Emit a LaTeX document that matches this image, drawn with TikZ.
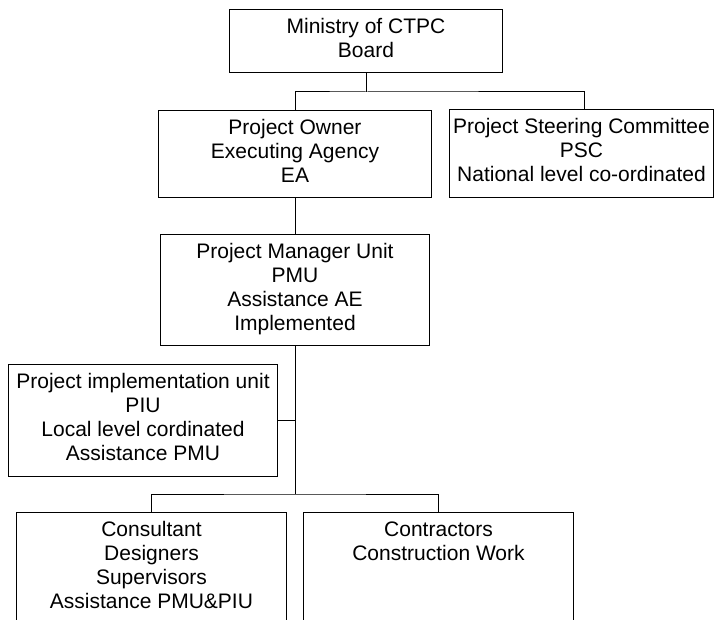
\documentclass[tikz,border=0pt]{standalone}
\usepackage{fontspec}
\setmainfont{Liberation Sans}
\newcommand{\orgtext}[3]{\parbox[c][\dimexpr #2-14.4pt\relax][t]{#1}{\centering\strut #3}}
\tikzset{orgbox/.style={draw, line width=1pt, inner xsep=0pt, inner ysep=7.2pt, anchor=north west}}
\begin{document}
\begin{tikzpicture}[x=1pt,y=-1pt,line width=1pt,font=\fontsize{21}{24}\selectfont]
 \useasboundingbox (0,0) rectangle (715,620);
 \node[orgbox] (ministry) at (229,9) {\orgtext{273pt}{63pt}{Ministry of CTPC\\Board}};
 \node[orgbox] (owner) at (158,110) {\orgtext{273pt}{87pt}{Project Owner\\Executing Agency\\EA}};
 \node[orgbox] (psc) at (449,109) {\orgtext{264pt}{88pt}{Project Steering Committee\\PSC\\National level co-ordinated}};
 \node[orgbox] (pmu) at (160,234) {\orgtext{269pt}{111pt}{Project Manager Unit\\PMU\\Assistance AE\\Implemented}};
 \node[orgbox] (piu) at (8,364) {\orgtext{269pt}{112pt}{Project implementation unit\\PIU\\Local level cordinated\\Assistance PMU}};
 \node[orgbox] (cons) at (16,512) {\orgtext{270pt}{130pt}{Consultant\\Designers\\Supervisors\\Assistance PMU\&PIU}};
 \node[orgbox] (contr) at (303,512) {\orgtext{270pt}{130pt}{Contractors\\Construction Work}};
 % connectors
 \draw (ministry.south) -- ++(0,19) coordinate (top-j);
 \draw (owner.north) |- (top-j) -| ([xshift=3pt]psc.north);
 \draw (owner.south) -- (pmu.north);
 \draw (pmu.south) -- ++(0,148) coordinate (low-j);
 \draw (piu.east) -- (piu.east -| pmu.south);
 \draw (cons.north) |- (low-j) -| (contr.north);
\end{tikzpicture}
\end{document}
